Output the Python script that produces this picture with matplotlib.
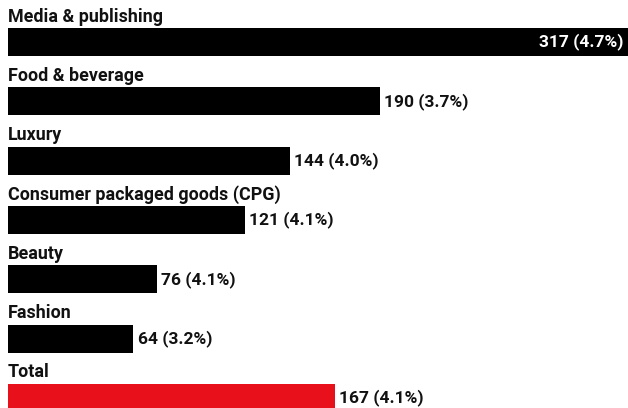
import matplotlib.pyplot as plt

categories = ["Media & publishing", "Food & beverage", "Luxury",
              "Consumer packaged goods (CPG)", "Beauty", "Fashion", "Total"]
values = [317, 190, 144, 121, 76, 64, 167]
shares = ["4.7%", "3.7%", "4.0%", "4.1%", "4.1%", "3.2%", "4.1%"]
colors = ["black"] * 6 + ["#e8101a"]

plt.rcParams['font.family'] = ['Roboto', 'DejaVu Sans']

fig = plt.figure(figsize=(6.28, 4.08), dpi=100)
ax = fig.add_axes([0, 0, 1, 1])

row = 59.3  # px per row
h = 28 / row
ax.barh(range(len(values)), values, height=h, color=colors, left=0)
ax.set_xlim(-8 * 317 / 620, 317)
ax.set_ylim((408 - 42) / row, -42 / row)
ax.axis('off')

for i, (cat, v, s) in enumerate(zip(categories, values, shares)):
    ax.text(0, i - h / 2 - 6.5 / row, cat, ha='left', va='baseline',
            fontsize=12.9, fontweight='bold', color='#111111')
    lab = f"{v} ({s})"
    if v == max(values):
        ax.text(v - 2.5, i, lab, ha='right', va='center', fontsize=12.5,
                fontweight='semibold', color='white')
    else:
        ax.text(v + 2.3, i, lab, ha='left', va='center', fontsize=12.5,
                fontweight='semibold', color='#111111')

fig.savefig('out.png', dpi=100)
